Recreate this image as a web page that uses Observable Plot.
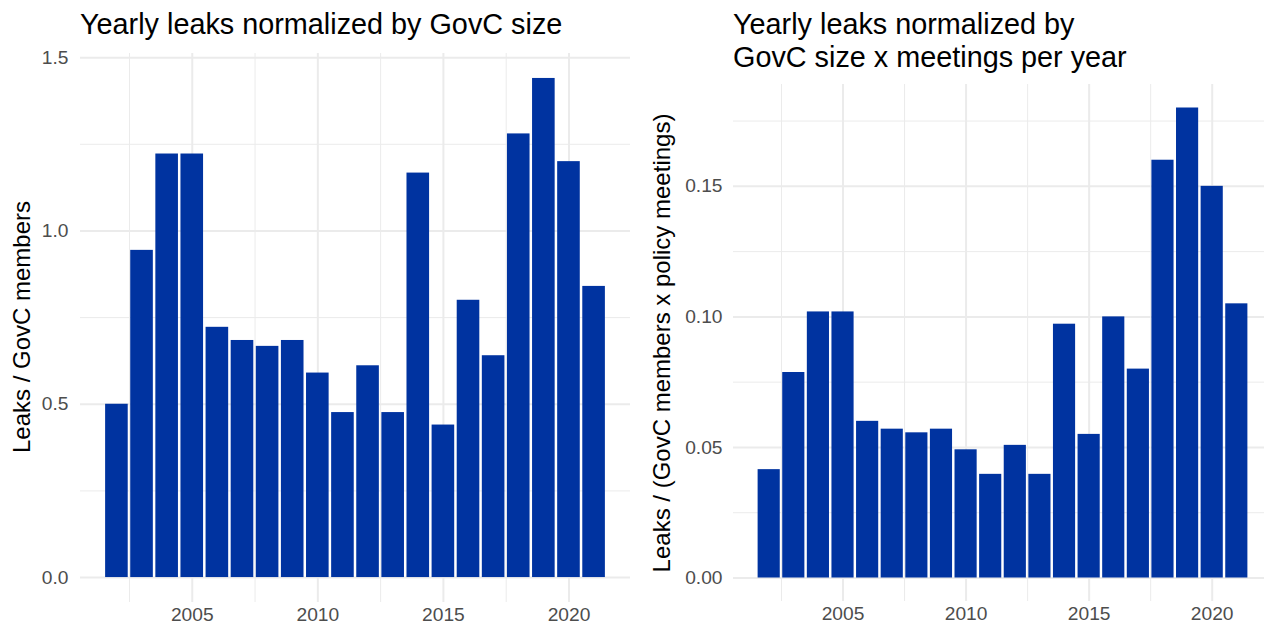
<!DOCTYPE html>
<html>
<head>
<meta charset="utf-8">
<script src="https://cdn.jsdelivr.net/npm/d3@7"></script>
<script src="https://cdn.jsdelivr.net/npm/@observablehq/plot@0.6"></script>
<style>
  html, body { margin: 0; padding: 0; background: #fff; overflow: hidden; }
  #root { position: relative; width: 1264px; height: 629px; overflow: hidden; font-family: "Liberation Sans", Arial, sans-serif; }
  .panel { position: absolute; top: 0; }
  .title { position: absolute; font-size: 28.8px; line-height: 33px; color: #000; white-space: nowrap; }
  .ytitle { position: absolute; font-size: 24px; line-height: 24px; color: #000; white-space: nowrap; transform: translate(-50%, -50%) rotate(-90deg); }
</style>
</head>
<body>
<div id="root"></div>
<script>
// ---- data ----
const years = [2002, 2003, 2004, 2005, 2006, 2007, 2008, 2009, 2010, 2011,
               2012, 2013, 2014, 2015, 2016, 2017, 2018, 2019, 2020, 2021];
const leaksPerMember = [0.500, 0.944, 1.222, 1.222, 0.722, 0.684, 0.667, 0.684, 0.590, 0.476,
                        0.611, 0.476, 1.167, 0.440, 0.800, 0.640, 1.280, 1.440, 1.200, 0.840];
const leaksPerMemberMeeting = [0.0415, 0.0787, 0.1019, 0.1019, 0.0600, 0.0570, 0.0556, 0.0570, 0.0491, 0.0397,
                               0.0508, 0.0397, 0.0972, 0.0550, 0.1000, 0.0800, 0.1600, 0.1800, 0.1500, 0.1050];
const xTicks = [2005, 2010, 2015, 2020];
const xMinor = [2002.5, 2007.5, 2012.5, 2017.5, 2022.5];
const yTicksLeft = [0, 0.5, 1.0, 1.5];
const yMinorLeft = [0.25, 0.75, 1.25];
const yTicksRight = [0, 0.05, 0.10, 0.15];
const yMinorRight = [0.025, 0.075, 0.125, 0.175];
const titles = ["Yearly leaks normalized by GovC size", "Yearly leaks normalized by\nGovC size x meetings per year"];
const yLabels = ["Leaks / GovC members", "Leaks / (GovC members x policy meetings)"];

const barColor = "#0033A0";
const gridColor = "#ebebeb";
const tickColor = "#4d4d4d";

function panel(values, opts) {
  const data = years.map((y, i) => ({year: y, value: values[i]}));
  return Plot.plot({
    width: opts.width,
    height: 629,
    marginLeft: opts.marginLeft,
    marginRight: opts.marginRight,
    marginTop: opts.marginTop,
    marginBottom: opts.marginBottom,
    style: {fontFamily: "'Liberation Sans', Arial, sans-serif", background: "transparent"},
    x: {domain: [2000.55, 2022.45], axis: null},
    y: {domain: opts.yDomain, axis: null},
    marks: [
      Plot.ruleY(opts.yMinor, {stroke: gridColor, strokeWidth: 1}),
      Plot.ruleX(xMinor.filter(d => d < 2022.45), {stroke: gridColor, strokeWidth: 1}),
      Plot.ruleY(opts.yTicks, {stroke: gridColor, strokeWidth: 2}),
      Plot.ruleX(xTicks, {stroke: gridColor, strokeWidth: 2}),
      Plot.rect(data, {x1: d => d.year - 0.45, x2: d => d.year + 0.45, y1: 0, y2: "value", fill: barColor, inset: 0}),
      Plot.axisX(xTicks, {tickSize: 0, tickPadding: 5, fontSize: 19.2, fill: tickColor, tickFormat: d => String(d), label: null}),
      Plot.axisY(opts.yTicks, {tickSize: 0, tickPadding: opts.yPad, fontSize: 19.2, fill: tickColor, tickFormat: opts.fmt, label: null})
    ]
  });
}

const root = document.getElementById("root");

const left = panel(leaksPerMember, {
  width: 640, marginLeft: 80, marginRight: 10, marginTop: 53, marginBottom: 27,
  yDomain: [-0.072, 1.512], yTicks: yTicksLeft, yMinor: yMinorLeft, yPad: 12, fmt: d3.format(".1f")
});
left.classList.add("panel");
left.style.left = "0px";
root.appendChild(left);

const right = panel(leaksPerMemberMeeting, {
  width: 632, marginLeft: 93, marginRight: 0, marginTop: 84, marginBottom: 28,
  yDomain: [-0.009, 0.189], yTicks: yTicksRight, yMinor: yMinorRight, yPad: 11, fmt: d3.format(".2f")
});
right.classList.add("panel");
right.style.left = "640px";
root.appendChild(right);

function addTitle(text, x, y) {
  const el = document.createElement("div");
  el.className = "title";
  el.style.left = x + "px";
  el.style.top = y + "px";
  el.innerHTML = text.split("\n").join("<br>");
  root.appendChild(el);
}
addTitle(titles[0], 80, 8);
addTitle(titles[1], 733, 8);

function addYTitle(text, cx, cy) {
  const el = document.createElement("div");
  el.className = "ytitle";
  el.style.left = cx + "px";
  el.style.top = cy + "px";
  el.textContent = text;
  root.appendChild(el);
}
addYTitle(yLabels[0], 22, 327);
addYTitle(yLabels[1], 662, 343);
</script>
</body>
</html>
